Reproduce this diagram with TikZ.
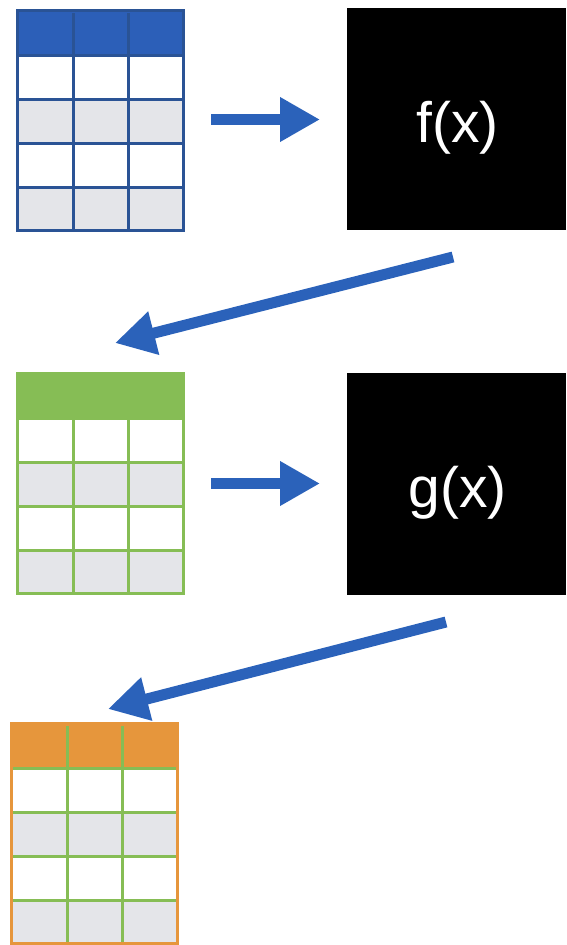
\documentclass[tikz,border=0pt]{standalone}
\usepackage{fontspec}
\setmainfont{Liberation Sans}
\usetikzlibrary{arrows.meta}
\definecolor{tblue}{HTML}{2C5FB8}
\definecolor{tbluedark}{HTML}{2A5395}
\definecolor{tgreen}{HTML}{86BD55}
\definecolor{torange}{HTML}{E6963C}
\definecolor{tgray}{HTML}{E4E5E9}
\definecolor{arrblue}{HTML}{2B62BA}
\tikzset{
  arr/.style={draw=arrblue, line width=11pt, -{Triangle[length=40pt,width=42pt]}},
  fbox/.style={fill=black, draw=none, inner sep=0pt, anchor=north west},
  ftext/.style={text=white, font=\fontsize{57}{60}\selectfont, inner sep=0pt, anchor=base},
  tablebox/.style={draw=none, inner sep=0pt, minimum width=166pt, minimum height=220pt, anchor=north west}
}
% #1 name, #2 x, #3 y (top-left, in pt, y downward), #4 header, #5 grid, #6 border
\newcommand{\mydatatable}[6]{%
  \node[tablebox] (#1) at (#2,-#3) {};
  \begin{scope}[shift={(#1.north west)}]
    \fill[#4] (0,0) rectangle (166,-45);
    \fill[white] (0,-45) rectangle (166,-89);
    \fill[tgray] (0,-89) rectangle (166,-133);
    \fill[white] (0,-133) rectangle (166,-177);
    \fill[tgray] (0,-177) rectangle (166,-220);
    \draw[#5, line width=3pt] (56,-3) -- (56,-220) (111,-3) -- (111,-220);
    \draw[#5, line width=3pt] (0,-45) -- (166,-45) (0,-89) -- (166,-89)
      (0,-133) -- (166,-133) (0,-177) -- (166,-177);
    \draw[#6, line width=3pt] (0,0) rectangle (166,-220);
  \end{scope}}
\begin{document}
\begin{tikzpicture}[x=1pt,y=1pt]
\useasboundingbox (0,0) rectangle (566,-945);
\mydatatable{t1}{17}{10}{tblue}{tbluedark}{tbluedark}
\mydatatable{t2}{17}{373}{tgreen}{tgreen}{tgreen}
\mydatatable{t3}{11}{723}{torange}{tgreen}{torange}
\node[fbox, minimum width=219pt, minimum height=222pt] (f) at (347,-8) {};
\node[ftext] (ft) at (457.5,-142) {f(x)};
\node[fbox, minimum width=219pt, minimum height=222pt] (g) at (347,-373) {};
\node[ftext] (gt) at (457.5,-507) {g(x)};
\coordinate (a1s) at (211,-119.5);
\coordinate (a1e) at (320,-119.5);
\coordinate (a2s) at (211,-483.5);
\coordinate (a2e) at (320,-483.5);
\coordinate (d1s) at (453,-257);
\coordinate (d1e) at (115,-343);
\coordinate (d2s) at (446,-622);
\coordinate (d2e) at (108,-709);
\draw[arr] (a1s) -- (a1e);
\draw[arr] (a2s) -- (a2e);
\draw[arr] (d1s) -- (d1e);
\draw[arr] (d2s) -- (d2e);
\end{tikzpicture}
\end{document}
